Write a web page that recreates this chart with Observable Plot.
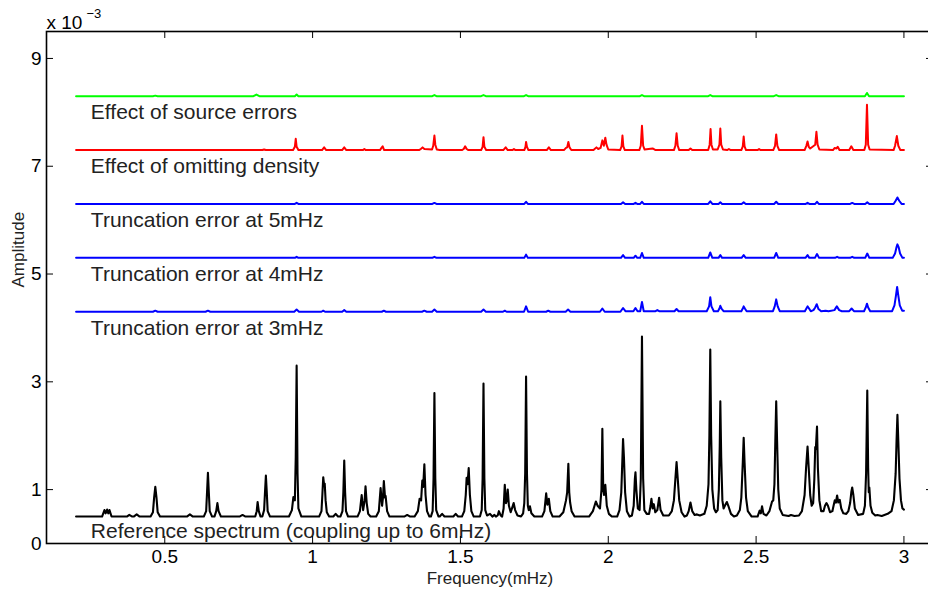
<!DOCTYPE html>
<html><head><meta charset="utf-8">
<script src="https://cdn.jsdelivr.net/npm/d3@7"></script>
<script src="https://cdn.jsdelivr.net/npm/@observablehq/plot@0.6"></script>
<style>body{margin:0;background:#fff;}</style>
</head><body><div id="chart"></div>
<script>
// x ticks (mHz) and y ticks (x 1e-3)
const xTicks = [0.5, 1, 1.5, 2, 2.5, 3];
const yTicks = [0, 1, 3, 5, 7, 9];

// Curve labels and their positions
const curveLabels = ["Effect of source errors", "Effect of omitting density", "Truncation error at 5mHz", "Truncation error at 4mHz", "Truncation error at 3mHz", "Reference spectrum (coupling up to 6mHz)"];
const labelFreq = [0.25, 0.25, 0.25, 0.25, 0.25, 0.25];
const labelAmp = [8.0, 7.0, 6.0, 5.0, 4.0, 0.22];

// Reference spectrum (black), [frequency mHz, amplitude 1e-3]
const refSpectrum = [[0.2,0.5],[0.288,0.5],[0.296,0.62],[0.3,0.56],[0.305,0.63],[0.309,0.56],[0.313,0.62],[0.32,0.5],
[0.372,0.5],[0.38,0.53],[0.39,0.5],[0.395,0.5],[0.405,0.54],[0.415,0.5],
[0.452,0.5],[0.46,0.58],[0.464,0.85],[0.468,1.05],[0.472,0.85],[0.476,0.58],[0.484,0.5],
[0.575,0.5],[0.585,0.54],[0.595,0.5],
[0.632,0.5],[0.64,0.6],[0.643,0.95],[0.646,1.31],[0.649,0.95],[0.652,0.6],[0.66,0.5],
[0.668,0.5],[0.674,0.6],[0.678,0.75],[0.682,0.6],[0.69,0.5],
[0.753,0.5],[0.763,0.53],[0.773,0.5],
[0.806,0.5],[0.811,0.6],[0.814,0.77],[0.818,0.6],[0.824,0.5],
[0.83,0.5],[0.836,0.62],[0.839,0.95],[0.842,1.26],[0.845,0.95],[0.848,0.6],[0.856,0.5],
[0.92,0.5],[0.93,0.62],[0.935,0.86],[0.94,0.8],[0.943,1.6],[0.946,3.3],[0.949,1.3],[0.952,0.65],[0.962,0.5],
[1.022,0.5],[1.03,0.6],[1.033,0.9],[1.036,1.23],[1.039,1.08],[1.041,1.11],[1.044,0.8],[1.048,0.58],[1.056,0.5],
[1.07,0.5],[1.078,0.55],[1.086,0.5],
[1.094,0.5],[1.101,0.6],[1.104,0.95],[1.107,1.54],[1.11,0.95],[1.113,0.6],[1.12,0.5],
[1.152,0.5],[1.16,0.6],[1.166,0.9],[1.171,0.62],[1.176,0.8],[1.179,1.06],[1.183,0.75],[1.188,0.55],[1.196,0.5],
[1.215,0.5],[1.224,0.6],[1.23,1.03],[1.235,0.7],[1.238,0.85],[1.241,1.16],[1.245,0.85],[1.247,0.88],[1.252,0.6],[1.26,0.5],
[1.31,0.5],[1.32,0.53],[1.33,0.5],
[1.345,0.5],[1.356,0.6],[1.362,0.83],[1.367,0.8],[1.371,1.17],[1.374,1.05],[1.378,1.47],[1.382,0.9],[1.387,0.6],[1.395,0.5],
[1.4,0.5],[1.406,0.6],[1.409,1.2],[1.412,2.79],[1.415,1.2],[1.418,0.62],[1.426,0.5],
[1.43,0.5],[1.438,0.55],[1.446,0.5],[1.476,0.5],[1.484,0.55],[1.492,0.5],
[1.505,0.5],[1.513,0.6],[1.518,0.9],[1.521,1.22],[1.524,1.1],[1.528,1.4],[1.532,0.9],[1.537,0.6],[1.545,0.5],
[1.566,0.5],[1.572,0.62],[1.575,1.2],[1.578,2.97],[1.581,1.2],[1.584,0.62],[1.59,0.52],[1.6,0.55],[1.608,0.5],
[1.615,0.53],[1.62,0.5],[1.626,0.52],[1.63,0.6],[1.636,0.52],
[1.641,0.5],[1.646,0.65],[1.65,1.09],[1.654,0.75],[1.657,0.8],[1.66,1.0],[1.664,0.7],[1.67,0.58],[1.676,0.68],[1.68,0.75],[1.685,0.62],[1.693,0.52],
[1.705,0.5],[1.712,0.56],[1.716,0.75],[1.719,1.3],[1.722,3.1],[1.725,1.3],[1.728,0.7],[1.731,0.62],[1.735,0.69],[1.74,0.56],[1.75,0.5],
[1.776,0.5],[1.784,0.6],[1.79,0.93],[1.794,0.72],[1.799,0.83],[1.804,0.6],[1.812,0.5],
[1.835,0.5],[1.848,0.58],[1.857,0.8],[1.861,0.95],[1.865,1.48],[1.868,0.95],[1.871,0.76],[1.876,0.6],[1.886,0.5],
[1.935,0.5],[1.948,0.6],[1.958,0.78],[1.964,0.7],[1.972,0.65],[1.977,1.0],[1.98,2.13],[1.983,1.0],[1.986,0.9],[1.99,1.09],[1.995,0.7],[2.002,0.55],[2.012,0.5],
[2.03,0.5],[2.038,0.62],[2.044,0.95],[2.048,1.6],[2.05,1.94],[2.053,1.6],[2.057,0.95],[2.063,0.6],[2.072,0.5],
[2.08,0.52],[2.086,0.7],[2.09,1.2],[2.092,1.32],[2.095,1.0],[2.1,0.65],
[2.106,0.62],[2.11,1.2],[2.114,3.84],[2.118,1.2],[2.122,0.62],[2.13,0.55],
[2.138,0.55],[2.143,0.7],[2.146,0.83],[2.15,0.65],[2.154,0.73],[2.159,0.58],[2.166,0.62],[2.172,0.85],[2.177,0.62],[2.186,0.52],
[2.205,0.52],[2.215,0.6],[2.222,0.8],[2.227,1.2],[2.231,1.51],[2.235,1.2],[2.24,0.8],[2.248,0.58],[2.258,0.5],
[2.266,0.52],[2.272,0.6],[2.278,0.76],[2.284,0.6],[2.292,0.53],[2.3,0.54],[2.31,0.52],
[2.325,0.55],[2.333,0.7],[2.339,1.1],[2.342,2.0],[2.345,3.6],[2.348,2.0],[2.352,1.0],[2.358,0.65],[2.364,0.58],
[2.37,0.62],[2.374,1.0],[2.377,1.8],[2.379,2.64],[2.382,1.6],[2.386,0.8],[2.39,0.65],[2.396,0.72],[2.401,0.77],[2.406,0.7],[2.415,0.55],[2.425,0.5],
[2.435,0.52],[2.445,0.62],[2.45,0.85],[2.455,1.5],[2.458,1.96],[2.461,1.5],[2.466,0.85],[2.472,0.6],[2.485,0.5],
[2.505,0.5],[2.512,0.61],[2.516,0.56],[2.52,0.69],[2.525,0.55],[2.535,0.52],
[2.545,0.6],[2.554,0.78],[2.558,0.8],[2.562,1.1],[2.565,1.9],[2.568,2.64],[2.571,1.9],[2.575,1.0],[2.58,0.65],[2.59,0.53],[2.61,0.51],[2.618,0.53],[2.63,0.51],
[2.645,0.52],[2.655,0.6],[2.664,0.9],[2.669,1.4],[2.674,1.8],[2.678,1.4],[2.683,0.9],[2.688,0.7],
[2.693,0.75],[2.697,1.2],[2.7,1.79],[2.702,1.75],[2.706,2.17],[2.709,1.4],[2.714,0.8],[2.72,0.6],
[2.728,0.6],[2.733,0.7],[2.738,0.75],[2.743,0.7],[2.75,0.58],
[2.758,0.6],[2.762,0.7],[2.766,0.8],[2.77,0.76],[2.774,0.89],[2.778,0.76],[2.783,0.81],[2.788,0.65],[2.795,0.56],[2.805,0.55],
[2.812,0.6],[2.818,0.75],[2.822,0.95],[2.825,1.04],[2.829,0.9],[2.834,0.65],[2.845,0.53],
[2.862,0.55],[2.868,0.7],[2.872,1.3],[2.876,2.84],[2.879,1.4],[2.881,0.95],[2.883,1.04],[2.887,0.7],[2.893,0.57],[2.903,0.52],[2.91,0.53],[2.925,0.51],[2.945,0.55],
[2.958,0.6],[2.966,0.8],[2.972,1.3],[2.975,1.9],[2.978,2.39],[2.981,1.9],[2.985,1.2],[2.99,0.8],[2.995,0.65],[3.0,0.63]];

// Truncation error at 3mHz (blue, offset 4.3)
const trunc3 = [[0.2,4.3],[0.46,4.3],[0.468,4.32],[0.476,4.3],[0.638,4.3],[0.646,4.32],[0.654,4.3],[0.938,4.3],[0.946,4.34],[0.954,4.3],
[1.03,4.3],[1.036,4.32],[1.042,4.3],[1.1,4.3],[1.107,4.33],[1.114,4.3],[1.234,4.3],[1.241,4.32],[1.248,4.3],[1.37,4.3],[1.378,4.32],[1.386,4.3],
[1.404,4.3],[1.412,4.34],[1.42,4.3],[1.57,4.3],[1.578,4.34],[1.586,4.3],[1.644,4.3],[1.65,4.32],[1.656,4.3],[1.715,4.3],[1.722,4.4],[1.729,4.3],
[1.79,4.3],[1.797,4.32],[1.804,4.3],[1.856,4.3],[1.864,4.34],[1.872,4.3],[1.972,4.3],[1.98,4.36],[1.988,4.3],[2.041,4.3],[2.05,4.37],[2.058,4.31],
[2.085,4.31],[2.092,4.37],[2.099,4.31],[2.108,4.31],[2.114,4.48],[2.12,4.31],[2.16,4.31],[2.166,4.33],[2.172,4.31],[2.224,4.31],[2.231,4.35],[2.238,4.31],
[2.333,4.31],[2.341,4.4],[2.345,4.57],[2.349,4.4],[2.357,4.31],[2.371,4.31],[2.376,4.36],[2.379,4.41],[2.383,4.36],[2.39,4.31],
[2.45,4.31],[2.455,4.36],[2.458,4.4],[2.462,4.36],[2.468,4.31],[2.557,4.31],[2.563,4.4],[2.568,4.53],[2.573,4.4],[2.58,4.31],
[2.665,4.31],[2.671,4.37],[2.674,4.4],[2.678,4.37],[2.685,4.31],[2.694,4.33],[2.7,4.38],[2.705,4.44],[2.711,4.35],[2.72,4.31],[2.735,4.32],[2.745,4.31],
[2.765,4.33],[2.773,4.4],[2.781,4.33],[2.79,4.31],[2.815,4.31],[2.823,4.36],[2.831,4.31],[2.865,4.31],[2.871,4.38],[2.875,4.45],[2.879,4.38],[2.886,4.31],
[2.96,4.31],[2.968,4.42],[2.973,4.6],[2.977,4.76],[2.981,4.6],[2.986,4.42],[2.994,4.32],[3.0,4.32]];

// Truncation error at 4mHz (blue, offset 5.3)
const trunc4 = [[0.2,5.3],[0.94,5.3],[0.946,5.32],[0.952,5.3],[1.405,5.3],[1.412,5.32],[1.419,5.3],[1.716,5.3],[1.722,5.36],[1.728,5.3],
[2.043,5.3],[2.05,5.35],[2.057,5.3],[2.086,5.3],[2.092,5.34],[2.098,5.3],[2.108,5.3],[2.114,5.39],[2.12,5.3],[2.338,5.3],[2.345,5.4],[2.352,5.3],
[2.373,5.3],[2.379,5.35],[2.385,5.3],[2.451,5.3],[2.458,5.35],[2.465,5.3],[2.561,5.3],[2.568,5.39],[2.575,5.3],[2.667,5.3],[2.674,5.35],[2.68,5.3],
[2.699,5.3],[2.706,5.37],[2.713,5.3],[2.767,5.3],[2.774,5.32],[2.781,5.3],[2.818,5.3],[2.825,5.32],[2.832,5.3],[2.869,5.3],[2.876,5.38],[2.883,5.3],
[2.962,5.3],[2.97,5.38],[2.975,5.5],[2.978,5.55],[2.982,5.5],[2.987,5.38],[2.995,5.3],[3.0,5.3]];

// Truncation error at 5mHz (blue, offset 6.3)
const trunc5 = [[0.2,6.3],[0.94,6.3],[0.946,6.32],[0.952,6.3],[1.405,6.3],[1.412,6.32],[1.419,6.3],[1.716,6.3],[1.722,6.34],[1.728,6.3],
[2.043,6.3],[2.05,6.33],[2.057,6.3],[2.086,6.3],[2.092,6.32],[2.098,6.3],[2.108,6.3],[2.114,6.34],[2.12,6.3],[2.338,6.3],[2.345,6.35],[2.352,6.3],
[2.373,6.3],[2.379,6.33],[2.385,6.3],[2.451,6.3],[2.458,6.33],[2.465,6.3],[2.561,6.3],[2.568,6.34],[2.575,6.3],[2.668,6.3],[2.674,6.32],[2.68,6.3],
[2.7,6.3],[2.706,6.34],[2.712,6.3],[2.818,6.3],[2.825,6.32],[2.832,6.3],[2.869,6.3],[2.876,6.33],[2.883,6.3],
[2.965,6.3],[2.972,6.36],[2.978,6.42],[2.984,6.36],[2.992,6.3],[3.0,6.3]];

// Effect of omitting density (red, offset 7.3)
const density = [[0.2,7.3],[0.83,7.3],[0.836,7.31],[0.842,7.3],[0.934,7.3],[0.94,7.36],[0.943,7.51],[0.946,7.36],[0.952,7.3],
[1.032,7.3],[1.039,7.35],[1.046,7.3],[1.1,7.3],[1.107,7.35],[1.114,7.3],[1.17,7.3],[1.175,7.32],[1.18,7.3],[1.228,7.3],[1.233,7.34],[1.237,7.37],[1.242,7.3],
[1.36,7.3],[1.366,7.32],[1.372,7.35],[1.378,7.32],[1.404,7.31],[1.408,7.38],[1.412,7.57],[1.415,7.4],[1.42,7.31],[1.43,7.3],
[1.505,7.3],[1.511,7.32],[1.516,7.37],[1.521,7.32],[1.527,7.3],[1.57,7.3],[1.575,7.36],[1.578,7.54],[1.581,7.36],[1.587,7.3],
[1.645,7.3],[1.653,7.35],[1.66,7.3],[1.676,7.3],[1.681,7.32],[1.686,7.3],[1.716,7.3],[1.72,7.36],[1.722,7.45],[1.725,7.36],[1.73,7.3],
[1.792,7.3],[1.799,7.35],[1.806,7.3],[1.85,7.3],[1.857,7.34],[1.861,7.35],[1.865,7.45],[1.869,7.35],[1.875,7.3],
[1.95,7.3],[1.96,7.35],[1.966,7.32],[1.974,7.34],[1.98,7.48],[1.985,7.38],[1.99,7.53],[1.994,7.4],[2.0,7.31],
[2.04,7.3],[2.045,7.37],[2.048,7.57],[2.051,7.37],[2.056,7.3],[2.105,7.3],[2.11,7.38],[2.114,7.75],[2.118,7.38],[2.123,7.31],[2.15,7.33],[2.16,7.3],
[2.222,7.3],[2.227,7.38],[2.231,7.61],[2.235,7.38],[2.24,7.3],[2.272,7.3],[2.278,7.33],[2.284,7.3],
[2.338,7.3],[2.343,7.4],[2.346,7.69],[2.349,7.4],[2.354,7.31],[2.37,7.31],[2.376,7.4],[2.379,7.7],[2.382,7.4],[2.388,7.31],[2.402,7.3],[2.408,7.32],[2.414,7.3],
[2.45,7.3],[2.455,7.37],[2.458,7.55],[2.461,7.37],[2.466,7.3],[2.505,7.3],[2.51,7.32],[2.515,7.3],
[2.558,7.3],[2.564,7.38],[2.568,7.59],[2.572,7.38],[2.578,7.3],
[2.664,7.3],[2.67,7.38],[2.674,7.46],[2.678,7.36],[2.683,7.33],[2.7,7.4],[2.704,7.64],[2.708,7.4],[2.714,7.31],
[2.76,7.3],[2.766,7.34],[2.772,7.33],[2.776,7.36],[2.782,7.3],[2.815,7.3],[2.822,7.37],[2.829,7.3],
[2.866,7.3],[2.871,7.4],[2.875,8.14],[2.879,7.4],[2.884,7.31],[2.965,7.3],[2.97,7.38],[2.976,7.56],[2.981,7.38],[2.988,7.3],[3.0,7.3]];

// Effect of source errors (green, offset 8.3)
const source = [[0.2,8.3],[0.46,8.3],[0.468,8.31],[0.476,8.3],[0.8,8.3],[0.81,8.33],[0.82,8.3],[0.94,8.3],[0.946,8.33],[0.952,8.3],
[1.405,8.3],[1.412,8.32],[1.419,8.3],[1.57,8.3],[1.578,8.32],[1.586,8.3],[1.715,8.3],[1.722,8.32],[1.729,8.3],[2.107,8.3],[2.114,8.32],[2.121,8.3],
[2.338,8.3],[2.345,8.32],[2.352,8.3],[2.56,8.3],[2.568,8.32],[2.576,8.3],[2.868,8.3],[2.875,8.36],[2.882,8.3],[3.0,8.3]];

const font = "'Liberation Sans', Arial, Helvetica, sans-serif";
const labelRows = curveLabels.map((t, i) => ({t, f: labelFreq[i], v: labelAmp[i]}));

const chart = Plot.plot({
  width: 928, height: 590,
  marginLeft: 46, marginRight: -5, marginTop: 31, marginBottom: 47,
  style: {fontFamily: font, background: "white", color: "black"},
  x: {domain: [0.1, 3.1]},
  y: {domain: [0, 9.5]},
  marks: [
    Plot.line(refSpectrum, {x: d => d[0], y: d => d[1], stroke: "black", strokeWidth: 2.1, strokeLinejoin: "round"}),
    Plot.line(trunc3, {x: d => d[0], y: d => d[1], stroke: "#0000ff", strokeWidth: 2, strokeLinejoin: "round"}),
    Plot.line(trunc4, {x: d => d[0], y: d => d[1], stroke: "#0000ff", strokeWidth: 2, strokeLinejoin: "round"}),
    Plot.line(trunc5, {x: d => d[0], y: d => d[1], stroke: "#0000ff", strokeWidth: 2, strokeLinejoin: "round"}),
    Plot.line(density, {x: d => d[0], y: d => d[1], stroke: "#ff0000", strokeWidth: 2, strokeLinejoin: "round"}),
    Plot.line(source, {x: d => d[0], y: d => d[1], stroke: "#00ff00", strokeWidth: 2, strokeLinejoin: "round"}),
    Plot.text(labelRows, {x: "f", y: "v", text: "t", textAnchor: "start", fontSize: 21, fill: "#222"}),
    Plot.frame({stroke: "black", strokeWidth: 1.6}),
    Plot.ruleX(xTicks, {x: d => d, insetTop: 505, stroke: "black"}),
    Plot.ruleX(xTicks, {x: d => d, insetBottom: 505, stroke: "black"}),
    Plot.ruleY(yTicks, {y: d => d, insetRight: 880, stroke: "black"}),
    Plot.ruleY(yTicks, {y: d => d, insetLeft: 880, stroke: "black"}),
    Plot.axisX(xTicks, {tickSize: 0, tickPadding: 6, fontSize: 19, label: null, tickFormat: d => String(d)}),
    Plot.axisY(yTicks, {tickSize: 0, tickPadding: 5, fontSize: 19, label: null, tickFormat: d => String(d)}),
    Plot.text(["Frequency(mHz)"], {frameAnchor: "bottom", dy: 40, fontSize: 17, fill: "#222"}),
    Plot.text(["Amplitude"], {frameAnchor: "left", dx: -28, rotate: -90, fontSize: 17, fill: "#222"}),
    Plot.text(["x 10"], {frameAnchor: "top-left", textAnchor: "start", lineAnchor: "bottom", dy: -3, fontSize: 19}),
    Plot.text(["\u22123"], {frameAnchor: "top-left", textAnchor: "start", lineAnchor: "bottom", dx: 40, dy: -14, fontSize: 13})
  ]
});
document.getElementById("chart").appendChild(chart);
</script>
</body></html>
